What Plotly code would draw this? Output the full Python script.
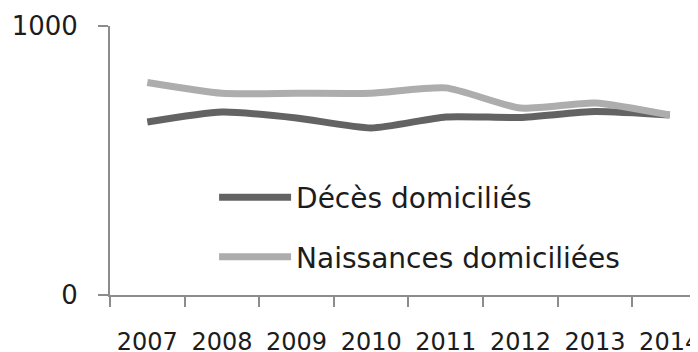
#!/usr/bin/env python3
# Deces / naissances domicilies, 2007-2014
# - line chart, plotly

import plotly.graph_objects as go

years = ['2007', '2008', '2009', '2010', '2011', '2012', '2013', '2014']
deces = [643, 680, 658, 621, 662, 660, 682, 669]
naissances = [790, 750, 750, 750, 770, 695, 714, 669]
y_ticks = [0, 1000]

def main():
    """ build the figure and write it out """
    axis_col = '#8c8c8c'
    txt_col = '#1c1c1c'
    font_fam = 'DejaVu Sans'

    fig = go.Figure()
    fig.add_trace(go.Scatter(x=years, y=deces, name='Décès domiciliés',
                             mode='lines', legendgroup='d',
                             line=dict(color='#636363', width=7, shape='spline', smoothing=0.6)))
    fig.add_trace(go.Scatter(x=years, y=naissances, name='Naissances domiciliées',
                             mode='lines', legendgroup='n',
                             line=dict(color='#adadad', width=7, shape='spline', smoothing=0.6)))

    # page body has an 8px margin, so the figure is kept 8px smaller
    fig.update_layout(
        width=690, height=344,
        margin=dict(l=102, r=0, t=18, b=57),
        paper_bgcolor='white', plot_bgcolor='white',
        font=dict(family=font_fam, size=24, color=txt_col),
        showlegend=True,
        legend=dict(x=0.177, y=0.455, xanchor='left', yanchor='top',
                    bgcolor='rgba(0,0,0,0)', font=dict(size=28),
                    itemwidth=72, tracegroupgap=20, traceorder='grouped'),
    )
    # category axis, ticks between the years, plot runs past the right edge
    fig.update_xaxes(type='category', range=[-0.5, 7.38], automargin=False,
                     showline=True, linecolor=axis_col, linewidth=2,
                     ticks='outside', tickson='boundaries', ticklen=10,
                     tickwidth=2, tickcolor=axis_col, ticklabelstandoff=24,
                     showgrid=False, zeroline=False)
    # en space after the y labels to sit them further from the ticks
    fig.update_yaxes(range=[0, 1000], tickvals=y_ticks,
                     ticktext=[str(v) + '\u2002' for v in y_ticks],
                     automargin=False, tickfont=dict(size=26),
                     showline=True, linecolor=axis_col, linewidth=2,
                     ticks='outside', ticklen=10, tickwidth=2, tickcolor=axis_col,
                     ticklabelstandoff=2,
                     showgrid=True, gridcolor=axis_col, gridwidth=2, zeroline=False)

    fig.write_html('out.html')

if __name__ == '__main__':
    main()
